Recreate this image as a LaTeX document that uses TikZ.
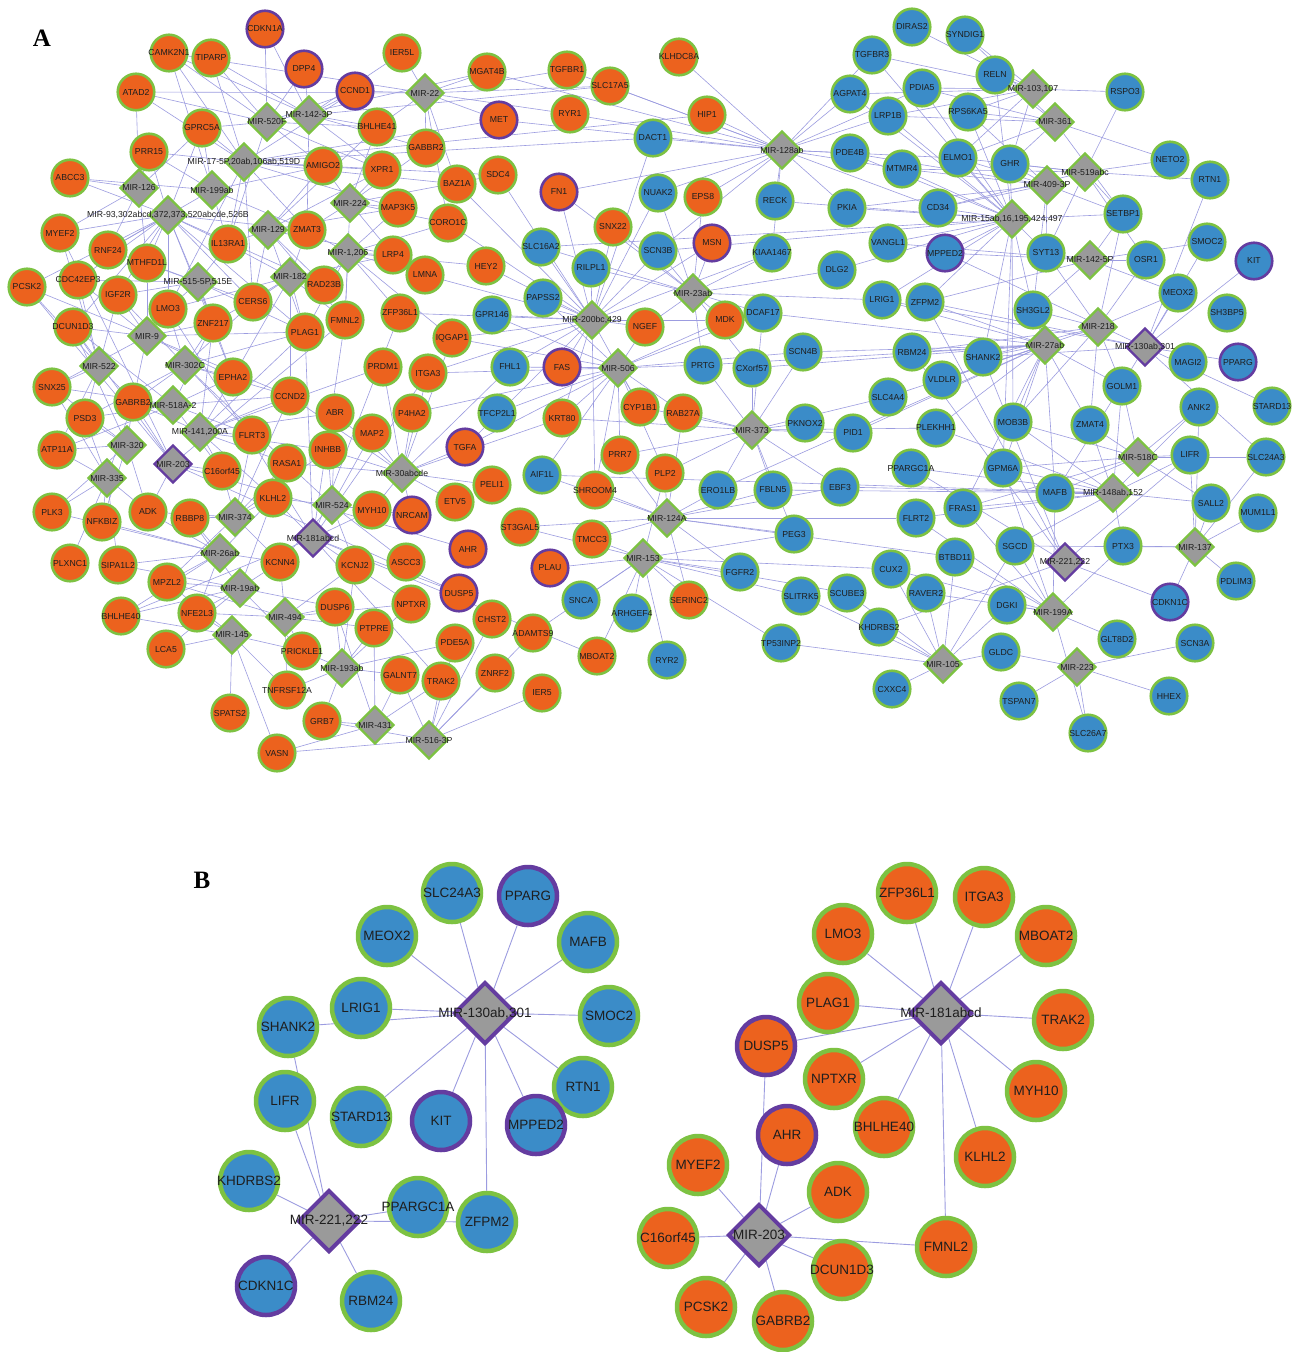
\documentclass[tikz,border=0pt]{standalone}
\usepackage{fontspec}
\setmainfont{Liberation Serif}
\newfontfamily\lsans{Liberation Sans}
\usetikzlibrary{shapes.geometric,backgrounds}
\definecolor{cor}{HTML}{EC621E}
\definecolor{cbl}{HTML}{3B8CC8}
\definecolor{cgr}{HTML}{7DC242}
\definecolor{cpu}{HTML}{643CA0}
\definecolor{cgy}{HTML}{9A9A9A}
\definecolor{ced}{HTML}{9C9CE0}
\definecolor{ctx}{HTML}{1E1E1E}
\tikzset{
 gA/.style={circle,minimum size=36.5pt,inner sep=0pt,line width=2.6pt,draw=cgr},
 og/.style={gA,fill=cor}, op/.style={gA,fill=cor,draw=cpu},
 bgn/.style={gA,fill=cbl}, bpn/.style={gA,fill=cbl,draw=cpu},
 mA/.style={diamond,minimum size=38pt,inner sep=0pt,line width=2.4pt,draw=cgr,fill=cgy},
 mAp/.style={mA,draw=cpu},
 labA/.style={font=\lsans\fontsize{8.7}{8.7}\selectfont,text=ctx,inner sep=0pt},
 edA/.style={draw=ced,line width=0.6pt},
 gB/.style={circle,minimum size=58pt,inner sep=0pt,line width=4.5pt,draw=cgr},
 ogB/.style={gB,fill=cor}, opB/.style={gB,fill=cor,draw=cpu},
 bgB/.style={gB,fill=cbl}, bpB/.style={gB,fill=cbl,draw=cpu},
 mB/.style={diamond,minimum size=62pt,inner sep=0pt,line width=4pt,draw=cpu,fill=cgy},
 labB/.style={font=\lsans\fontsize{13.5}{13.5}\selectfont,text=ctx,inner sep=0pt},
 edB/.style={draw=ced,line width=0.9pt},
 panlab/.style={font=\bfseries\fontsize{25}{25}\selectfont,inner sep=0pt}
}
\newcommand\GA[4]{\node[#1] (#2) at (#3) {}; \node[labA] at (#3) {#4};}
\newcommand\GB[4]{\node[#1] (#2) at (#3) {}; \node[labB] at (#3) {#4};}
\newcommand\EA[2]{\foreach \t in {#2} \draw[edA] (#1) -- (\t);}
\newcommand\EB[2]{\foreach \t in {#2} \draw[edB] (#1) -- (\t);}
\begin{document}
\begin{tikzpicture}[x=1pt,y=-1pt]
\useasboundingbox (0,0) rectangle (1297,1352);
\node[panlab] (labA) at (42,38) {A};
\node[panlab] (labB) at (202,880) {B};
% ---------- panel A: orange genes
\foreach \n/\x/\y in {CAMK2N1/169/53,TIPARP/211/58,ATAD2/136/92,GPRC5A/202/128,PRR15/149/152,AMIGO2/323/166,ABCC3/70/178,MYEF2/60/233,RNF24/108/250,MTHFD1L/147/263,IL13RA1/228/244,ZMAT3/307/230,IER5L/402/53,MGAT4B/487/72,TGFBR1/567/70,SLC17A5/610/86,RYR1/570/114,BHLHE41/377/127,GABBR2/426/148,XPR1/382/170,SDC4/498/175,BAZ1A/457/184,MAP3K5/398/208,CORO1C/448/223,SNX22/613/227,LRP4/393/255,HEY2/486/266,KLHDC8A/679/57,HIP1/707/115,EPS8/703/197,PCSK2/27/287,CDC42EP3/78/280,IGF2R/118/295,RAD23B/324/285,LMO3/168/309,CERS6/253/302,ZNF217/213/323,DCUN1D3/73/327,PLAG1/305/332,EPHA2/233/377,SNX25/52/387,GABRB2/133/402,CCND2/290/396,PSD3/85/418,FLRT3/252/435,ATP11A/57/450,C16orf45/222/471,RASA1/287/463,KLHL2/273/498,PLK3/52/512,NFKBIZ/102/522,ADK/148/512,RBBP8/190/518,LMNA/425/275,FMNL2/345/320,ZFP36L1/400/313,IQGAP1/452/338,PRDM1/383/367,ITGA3/428/373,ABR/335/413,P4HA2/412/413,KRT80/562/418,INHBB/328/450,MAP2/372/433,PRR7/620/455,PELI1/492/485,SHROOM4/595/490,MYH10/372/510,ETV5/455/502,ST3GAL5/520/527,MDK/725/320,NGEF/645/327,CYP1B1/640/407,RAB27A/683/413,PLP2/665/473,PLXNC1/70/563,SIPA1L2/118/565,MPZL2/167/582,KCNN4/280/562,BHLHE40/121/616,NFE2L3/197/613,LCA5/166/649,PRICKLE1/302/651,TNFRSF12A/287/690,SPATS2/230/713,VASN/277/753,TMCC3/592/539,KCNJ2/355/565,ASCC3/406/562,DUSP6/335/607,NPTXR/411/604,PTPRE/374/628,CHST2/492/619,PDE5A/455/643,ADAMTS9/533/633,GALNT7/400/675,TRAK2/441/681,ZNRF2/495/673,MBOAT2/597/656,IER5/542/693,GRB7/322/721,SERINC2/689/600}
 {\GA{og}{\n}{\x,\y}{\n}}
\foreach \n/\x/\y in {CDKN1A/265/29,DPP4/304/69,CCND1/355/91,MET/499/120,FN1/559/192,MSN/712/243,FAS/562/367,TGFA/465/447,NRCAM/412/515,AHR/468/549,PLAU/550/568,DUSP5/459/593}
 {\GA{op}{\n}{\x,\y}{\n}}
% ---------- panel A: blue genes
\foreach \n/\x/\y in {SLC16A2/541/247,RILPL1/591/268,PAPSS2/543/298,GPR146/492/315,FHL1/510/367,TFCP2L1/497/413,AIF1L/542/475,SNCA/581/600,ARHGEF4/632/613,RYR2/667/660,DACT1/653/138,NUAK2/658/193,SCN3B/658/251,DIRAS2/912/27,SYNDIG1/965/35,TGFBR3/872/55,AGPAT4/850/94,PDIA5/922/88,LRP1B/888/116,RPS6KA5/968/112,PDE4B/850/153,MTMR4/902/169,ELMO1/958/158,RECK/775/201,PKIA/847/208,CD34/938/208,KIAA1467/772/253,VANGL1/888/243,DLG2/837/270,RELN/995/75,RSPO3/1125/92,GHR/1010/164,NETO2/1170/160,RTN1/1210/180,SETBP1/1123/214,SMOC2/1207/242,SYT13/1046/253,OSR1/1146/260,DCAF17/763/313,LRIG1/882/300,ZFPM2/925/302,SCN4B/803/352,RBM24/912/352,PRTG/703/365,CXorf57/752/368,VLDLR/942/380,SLC4A4/888/397,PKNOX2/805/423,PID1/853/433,PLEKHH1/936/428,PPARGC1A/911/468,ERO1LB/718/490,FBLN5/773/490,EBF3/840/487,FRAS1/963/508,FLRT2/916/518,MEOX2/1178/293,SH3BP5/1227/313,SH3GL2/1033/310,SHANK2/983/357,MAGI2/1188/362,GOLM1/1122/386,ANK2/1199/407,STARD13/1272/406,MOB3B/1013/422,ZMAT4/1090/425,LIFR/1190/455,SLC24A3/1266/457,GPM6A/1003/468,MAFB/1055/493,SALL2/1211/503,MUM1L1/1258/513,PEG3/794/534,FGFR2/740/572,CUX2/891/569,BTBD11/955/557,SLITRK5/801/596,SCUBE3/847/593,RAVER2/926/593,KHDRBS2/879/627,TP53INP2/781/643,CXXC4/892/689,SGCD/1015/546,PTX3/1123/546,PDLIM3/1236/581,DGKI/1007/605,GLT8D2/1117/639,SCN3A/1195/643,GLDC/1001/652,TSPAN7/1019/701,HHEX/1169/696,SLC26A7/1088/733}
 {\GA{bgn}{\n}{\x,\y}{\n}}
\foreach \n/\x/\y in {MPPED2/945/253,KIT/1254/261,PPARG/1238/362,CDKN1C/1170/602}
 {\GA{bpn}{\n}{\x,\y}{\n}}
% ---------- panel A: miRNAs
\GA{mA}{m520F}{267,122}{MIR-520F}
\GA{mA}{m1423p}{309,115}{MIR-142-3P}
\GA{mA}{m22}{425,93}{MIR-22}
\GA{mA}{m17}{244,162}{MIR-17-5P,20ab,106ab,519D}
\GA{mA}{m126}{139,188}{MIR-126}
\GA{mA}{m199ab}{212,190}{MIR-199ab}
\GA{mA}{m93}{168,215}{MIR-93,302abcd,372,373,520abcde,526B}
\GA{mA}{m129}{268,230}{MIR-129}
\GA{mA}{m224}{350,203}{MIR-224}
\GA{mA}{m1206}{348,253}{MIR-1,206}
\GA{mA}{m182}{290,277}{MIR-182}
\GA{mA}{m515}{198,282}{MIR-515-5P,515E}
\GA{mA}{m9}{147,336}{MIR-9}
\GA{mA}{m522}{99,366}{MIR-522}
\GA{mA}{m302c}{185,365}{MIR-302C}
\GA{mA}{m518a}{173,405}{MIR-518A-2}
\GA{mA}{m141}{200,432}{MIR-141,200A}
\GA{mA}{m320}{127,445}{MIR-320}
\GA{mAp}{m203}{173,464}{MIR-203}
\GA{mA}{m335}{107,478}{MIR-335}
\GA{mA}{m374}{235,517}{MIR-374}
\GA{mA}{m30}{402,473}{MIR-30abcde}
\GA{mA}{m524}{332,505}{MIR-524}
\GA{mAp}{m181}{313,538}{MIR-181abcd}
\GA{mA}{m26}{220,553}{MIR-26ab}
\GA{mA}{m19}{240,588}{MIR-19ab}
\GA{mA}{m494}{285,617}{MIR-494}
\GA{mA}{m145}{232,635}{MIR-145}
\GA{mA}{m193}{342,668}{MIR-193ab}
\GA{mA}{m431}{375,725}{MIR-431}
\GA{mA}{m5163p}{429,740}{MIR-516-3P}
\GA{mA}{m200}{592,320}{MIR-200bc,429}
\GA{mA}{m506}{618,368}{MIR-506}
\GA{mA}{m23}{693,293}{MIR-23ab}
\GA{mA}{m373}{752,430}{MIR-373}
\GA{mA}{m124}{667,518}{MIR-124A}
\GA{mA}{m153}{643,558}{MIR-153}
\GA{mA}{m128}{782,150}{MIR-128ab}
\GA{mA}{m103}{1033,89}{MIR-103,107}
\GA{mA}{m361}{1055,122}{MIR-361}
\GA{mA}{m519}{1085,172}{MIR-519abc}
\GA{mA}{m409}{1047,185}{MIR-409-3P}
\GA{mA}{m15}{1012,219}{MIR-15ab,16,195,424,497}
\GA{mA}{m1425p}{1090,260}{MIR-142-5P}
\GA{mA}{m218}{1098,327}{MIR-218}
\GA{mA}{m27}{1045,345}{MIR-27ab}
\GA{mAp}{m130}{1145,347}{MIR-130ab,301}
\GA{mA}{m518c}{1138,457}{MIR-518C}
\GA{mA}{m148}{1113,493}{MIR-148ab,152}
\GA{mA}{m137}{1195,547}{MIR-137}
\GA{mAp}{m221}{1065,562}{MIR-221,222}
\GA{mA}{m199A}{1053,612}{MIR-199A}
\GA{mA}{m223}{1077,667}{MIR-223}
\GA{mA}{m105}{943,664}{MIR-105}
% ---------- panel B
\GB{bgB}{bSLC24A3}{452,893}{SLC24A3}
\GB{bpB}{bPPARG}{528,896}{PPARG}
\GB{bgB}{bMEOX2}{387,936}{MEOX2}
\GB{bgB}{bMAFB}{588,942}{MAFB}
\GB{bgB}{bLRIG1}{361,1008}{LRIG1}
\GB{bgB}{bSMOC2}{609,1016}{SMOC2}
\GB{bgB}{bSHANK2}{288,1027}{SHANK2}
\GB{bgB}{bRTN1}{583,1087}{RTN1}
\GB{bgB}{bLIFR}{285,1101}{LIFR}
\GB{bgB}{bSTARD13}{361,1117}{STARD13}
\GB{bpB}{bKIT}{441,1121}{KIT}
\GB{bpB}{bMPPED2}{536,1125}{MPPED2}
\GB{bgB}{bKHDRBS2}{249,1181}{KHDRBS2}
\GB{bgB}{bPPARGC1A}{418,1207}{PPARGC1A}
\GB{bgB}{bZFPM2}{487,1222}{ZFPM2}
\GB{bpB}{bCDKN1C}{266,1286}{CDKN1C}
\GB{bgB}{bRBM24}{371,1301}{RBM24}
\GB{mB}{bm130}{485,1013}{MIR-130ab,301}
\GB{mB}{bm221}{329,1221}{MIR-221,222}
\GB{ogB}{bZFP36L1}{907,893}{ZFP36L1}
\GB{ogB}{bITGA3}{984,897}{ITGA3}
\GB{ogB}{bLMO3}{843,934}{LMO3}
\GB{ogB}{bMBOAT2}{1046,936}{MBOAT2}
\GB{ogB}{bPLAG1}{828,1003}{PLAG1}
\GB{ogB}{bTRAK2}{1063,1020}{TRAK2}
\GB{opB}{bDUSP5}{766,1046}{DUSP5}
\GB{ogB}{bNPTXR}{834,1079}{NPTXR}
\GB{ogB}{bMYH10}{1036,1091}{MYH10}
\GB{ogB}{bBHLHE40}{884,1127}{BHLHE40}
\GB{opB}{bAHR}{787,1135}{AHR}
\GB{ogB}{bKLHL2}{985,1157}{KLHL2}
\GB{ogB}{bMYEF2}{698,1165}{MYEF2}
\GB{ogB}{bADK}{838,1192}{ADK}
\GB{ogB}{bC16orf45}{668,1238}{C16orf45}
\GB{ogB}{bFMNL2}{946,1247}{FMNL2}
\GB{ogB}{bDCUN1D3}{842,1270}{DCUN1D3}
\GB{ogB}{bPCSK2}{706,1307}{PCSK2}
\GB{ogB}{bGABRB2}{783,1321}{GABRB2}
\GB{mB}{bm181}{941,1013}{MIR-181abcd}
\GB{mB}{bm203}{759,1235}{MIR-203}
% ---------- edges
\begin{pgfonlayer}{background}
\fill[white] (0,0) rectangle (1297,1352);
\EA{m520F}{CDKN1A,DPP4,CAMK2N1,TIPARP,ATAD2,GPRC5A,CCND1,BHLHE41,AMIGO2,IL13RA1,MGAT4B,XPR1}
\EA{m1423p}{CDKN1A,DPP4,CCND1,BHLHE41,TIPARP,XPR1,GABBR2,ZMAT3,SLC17A5,CAMK2N1,IER5L}
\EA{m22}{IER5L,MGAT4B,CCND1,GABBR2,BHLHE41,TGFBR1,SLC17A5,CAMK2N1,BAZ1A,CORO1C,RYR1,ATAD2,MET}
\EA{m17}{GPRC5A,PRR15,AMIGO2,CCND1,TIPARP,CAMK2N1,IL13RA1,ZMAT3,XPR1,MAP3K5,BAZ1A,SDC4,MET,DACT1,LMO3,CERS6,ATAD2,HIP1}
\EA{m126}{ABCC3,PRR15,MYEF2,ATAD2,RNF24,GPRC5A,MTHFD1L}
\EA{m199ab}{GPRC5A,PRR15,ABCC3,IL13RA1,ZMAT3,RNF24,AMIGO2,CAMK2N1}
\EA{m93}{MYEF2,RNF24,MTHFD1L,ABCC3,IL13RA1,IGF2R,LMO3,ZNF217,CDC42EP3,DCUN1D3,PCSK2,CERS6,PLAG1,EPHA2,GPRC5A,ZMAT3,PRR15,RAD23B}
\EA{m129}{ZMAT3,IL13RA1,AMIGO2,CERS6,PLAG1,RAD23B,LRP4,XPR1,MAP3K5,FMNL2,BHLHE41}
\EA{m224}{XPR1,MAP3K5,AMIGO2,BHLHE41,ZMAT3,LRP4,CORO1C,FMNL2,SDC4,GABBR2}
\EA{m1206}{LRP4,ZMAT3,RAD23B,MAP3K5,FMNL2,LMNA,ZFP36L1,CORO1C,PLAG1,HEY2,IQGAP1}
\EA{m182}{RAD23B,CERS6,PLAG1,ZNF217,IL13RA1,ZMAT3,FMNL2,LRP4,CCND2,LMO3,EPHA2}
\EA{m515}{IGF2R,LMO3,ZNF217,MTHFD1L,CERS6,IL13RA1,CDC42EP3,RNF24,EPHA2,PLAG1}
\EA{m9}{LMO3,DCUN1D3,IGF2R,ZNF217,CDC42EP3,PCSK2,MTHFD1L,SNX25,GABRB2,EPHA2,PLAG1,CCND2}
\EA{m522}{DCUN1D3,SNX25,PCSK2,PSD3,GABRB2,CDC42EP3,IGF2R,ATP11A,MYEF2}
\EA{m302c}{EPHA2,ZNF217,LMO3,GABRB2,CCND2,PLAG1,FLRT3,PSD3,CERS6,IGF2R,RASA1}
\EA{m518a}{GABRB2,EPHA2,PSD3,SNX25,CCND2,FLRT3,ATP11A,C16orf45,ZNF217,DCUN1D3}
\EA{m141}{FLRT3,EPHA2,CCND2,C16orf45,RASA1,GABRB2,PLAG1,ABR,ZNF217,INHBB,KLHL2,PRDM1}
\EA{m320}{PSD3,ATP11A,GABRB2,SNX25,PLK3,ADK,NFKBIZ,DCUN1D3}
\EA{m203}{MYEF2,DUSP5,AHR,ADK,C16orf45,DCUN1D3,PCSK2,GABRB2,FMNL2}
\EA{m335}{ATP11A,PLK3,NFKBIZ,PSD3,ADK,SNX25,SIPA1L2,PLXNC1,GABRB2}
\EA{m374}{KLHL2,RBBP8,ADK,C16orf45,RASA1,FLRT3,KCNN4,MPZL2,INHBB,CCND2}
\EA{m30}{MAP2,P4HA2,INHBB,ITGA3,TGFA,MYH10,NRCAM,ABR,PRDM1,ETV5,RASA1,CCND2,IQGAP1,PELI1,KRT80,FHL1}
\EA{m524}{MYH10,KLHL2,INHBB,RASA1,NRCAM,KCNJ2,MAP2,ABR,KCNN4,ASCC3}
\EA{m181}{ZFP36L1,ITGA3,LMO3,MBOAT2,PLAG1,TRAK2,MYH10,NPTXR,BHLHE40,KLHL2,FMNL2,DUSP5}
\EA{m26}{RBBP8,MPZL2,SIPA1L2,KCNN4,ADK,NFKBIZ,BHLHE40,NFE2L3,KLHL2,PLK3}
\EA{m19}{MPZL2,NFE2L3,KCNN4,BHLHE40,SIPA1L2,DUSP6,PRICKLE1,KLHL2,LCA5,RBBP8}
\EA{m494}{DUSP6,PRICKLE1,KCNN4,NFE2L3,PTPRE,KCNJ2,TNFRSF12A,MPZL2,NPTXR}
\EA{m145}{SPATS2,NFE2L3,LCA5,VASN,BHLHE40,MPZL2,PRICKLE1,TNFRSF12A}
\EA{m193}{PRICKLE1,PTPRE,GALNT7,DUSP6,GRB7,TNFRSF12A,NPTXR,KCNJ2,PDE5A}
\EA{m431}{GRB7,GALNT7,TRAK2,PTPRE,VASN,DUSP6}
\EA{m5163p}{TRAK2,GALNT7,ZNRF2,IER5,VASN,PDE5A,ADAMTS9,GRB7,CHST2}
\EA{m200}{RILPL1,PAPSS2,SLC16A2,GPR146,NGEF,FAS,FHL1,IQGAP1,SNX22,SCN3B,FN1,MSN,MDK,SDC4,HEY2,LMNA,ITGA3,KRT80,CYP1B1,ZFP36L1,DACT1,NUAK2,KIAA1467,BAZ1A,CORO1C,TGFA,SHROOM4}
\EA{m506}{FAS,NGEF,CYP1B1,KRT80,FHL1,TFCP2L1,PRR7,AIF1L,SHROOM4,PRTG,RAB27A,PAPSS2,GPR146,TGFA,MDK,IQGAP1,P4HA2,SCN4B,PLP2,DCAF17,ITGA3}
\EA{m23}{MDK,NGEF,SCN3B,MSN,PRTG,DCAF17,CXorf57,RILPL1,SNX22,EPS8,NUAK2,KIAA1467,DLG2,LRIG1,SLC16A2,FN1}
\EA{m373}{RAB27A,CXorf57,PRTG,PKNOX2,ERO1LB,FBLN5,PLP2,CYP1B1,SCN4B,PID1,EBF3,SLC4A4,PEG3,PLEKHH1,DCAF17,KRT80,PRR7}
\EA{m124}{PLP2,ERO1LB,SHROOM4,PRR7,TMCC3,FGFR2,PEG3,ST3GAL5,FBLN5,SERINC2,RAB27A,AIF1L,FLRT2,BTBD11,EBF3}
\EA{m153}{TMCC3,SNCA,ARHGEF4,RYR2,SERINC2,FGFR2,PLAU,PLP2,MBOAT2,ST3GAL5,ADAMTS9,PEG3,SCUBE3,CUX2,SLITRK5,TP53INP2}
\EA{m128}{HIP1,KLHDC8A,DACT1,RECK,AGPAT4,LRP1B,PDE4B,TGFBR3,PKIA,MTMR4,NUAK2,EPS8,SLC17A5,RYR1,MET,FN1,TGFBR1,MGAT4B,CD34,ELMO1,PDIA5,KIAA1467,SCN3B}
\EA{m103}{RELN,RSPO3,SYNDIG1,RPS6KA5,DIRAS2,TGFBR3,PDIA5,LRP1B,ELMO1,AGPAT4,GHR}
\EA{m361}{RPS6KA5,RELN,GHR,ELMO1,SETBP1,NETO2,LRP1B,PDIA5,SYNDIG1}
\EA{m519}{GHR,NETO2,SETBP1,RTN1,RSPO3,ELMO1,SYT13,OSR1,CD34,MTMR4}
\EA{m409}{GHR,ELMO1,SETBP1,SYT13,CD34,RPS6KA5,MTMR4,PDE4B,PKIA,SH3GL2}
\EA{m15}{CD34,ELMO1,GHR,MTMR4,PKIA,VANGL1,MPPED2,SYT13,SH3GL2,PDE4B,LRP1B,RPS6KA5,SETBP1,ZFPM2,LRIG1,SHANK2,DLG2,RECK,AGPAT4,RELN,MOB3B,GPM6A,TGFBR3,PDIA5,SLC16A2,SCN3B}
\EA{m1425p}{SYT13,OSR1,SETBP1,SH3GL2,SMOC2,MPPED2,MEOX2,ZFPM2,VANGL1}
\EA{m218}{SH3GL2,MEOX2,GOLM1,SHANK2,OSR1,SYT13,ZMAT4,VLDLR,RBM24,MOB3B,SETBP1}
\EA{m27}{SH3GL2,SHANK2,MOB3B,GOLM1,ZMAT4,VLDLR,RBM24,ZFPM2,LRIG1,PLEKHH1,GPM6A,MAFB,FRAS1,SLC4A4,SCN4B,DCAF17,CXorf57,PID1,PRTG,ERO1LB}
\EA{m130}{SLC24A3,PPARG,MEOX2,MAFB,LRIG1,SMOC2,SHANK2,RTN1,STARD13,KIT,MPPED2,ZFPM2}
\EA{m518c}{LIFR,ZMAT4,GOLM1,ANK2,SALL2,MAFB,SLC24A3,FRAS1,MOB3B,GPM6A}
\EA{m148}{MAFB,ZMAT4,LIFR,SALL2,GPM6A,FRAS1,SGCD,PTX3,ANK2,GOLM1,MOB3B,PLEKHH1,FLRT2,PPARGC1A,EBF3,AIF1L,FBLN5}
\EA{m137}{PTX3,PDLIM3,SALL2,MUM1L1,LIFR,SGCD,ANK2,SLC24A3,CDKN1C}
\EA{m221}{SHANK2,LIFR,KHDRBS2,PPARGC1A,ZFPM2,CDKN1C,RBM24}
\EA{m199A}{SGCD,DGKI,GLT8D2,BTBD11,PTX3,FRAS1,MAFB,GPM6A,FLRT2,CUX2,RAVER2,SLC26A7}
\EA{m223}{TSPAN7,SLC26A7,HHEX,SCN3A,GLDC}
\EA{m105}{CXXC4,TP53INP2,KHDRBS2,RAVER2,BTBD11,GLDC,CUX2,SCUBE3,DGKI,SGCD,SLITRK5}
\EB{bm130}{bSLC24A3,bPPARG,bMEOX2,bMAFB,bLRIG1,bSMOC2,bSHANK2,bRTN1,bSTARD13,bKIT,bMPPED2,bZFPM2}
\EB{bm221}{bSHANK2,bLIFR,bKHDRBS2,bPPARGC1A,bZFPM2,bCDKN1C,bRBM24}
\EB{bm181}{bZFP36L1,bITGA3,bLMO3,bMBOAT2,bPLAG1,bTRAK2,bDUSP5,bNPTXR,bMYH10,bBHLHE40,bKLHL2,bFMNL2}
\EB{bm203}{bDUSP5,bAHR,bMYEF2,bADK,bC16orf45,bDCUN1D3,bPCSK2,bGABRB2,bFMNL2}
\end{pgfonlayer}
\end{tikzpicture}
\end{document}
